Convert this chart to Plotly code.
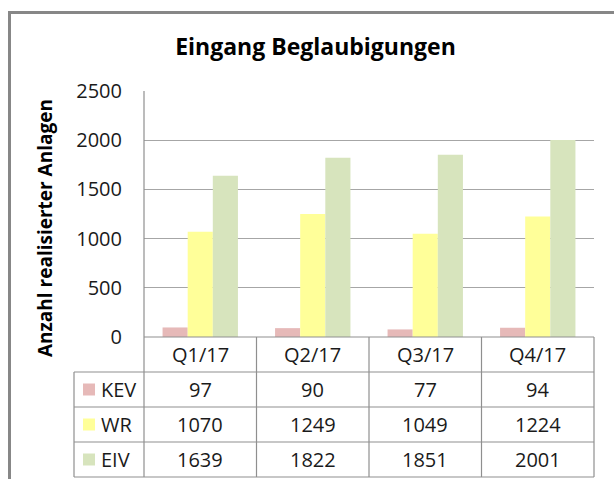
import plotly.graph_objects as go

categories = ["Q1/17", "Q2/17", "Q3/17", "Q4/17"]
series_names = ["KEV", "WR", "EIV"]
kev = [97, 90, 77, 94]
wr = [1070, 1249, 1049, 1224]
eiv = [1639, 1822, 1851, 2001]
colors = ["#e6b9b8", "#ffff99", "#d7e4bd"]
y_ticks = [0, 500, 1000, 1500, 2000, 2500]
title_text = "Eingang Beglaubigungen"
y_title = "Anzahl realisierter Anlagen"

series_values = [kev, wr, eiv]

W, H = 614, 479
L, R, T, B = 144, 20, 91, 142
plot_w = W - L - R
plot_h = H - T - B
row_h = 35 / plot_h
leg_left = (74 - L) / plot_w

FONT = "Open Sans"
LINE = "#8f8f8f"
GRID = "#a6a6a6"
TXT = "#1a1a1a"
FS = 20

fig = go.Figure()
for name, vals, col in zip(series_names, series_values, colors):
    fig.add_trace(go.Bar(x=categories, y=vals, name=name, marker=dict(color=col, line=dict(width=0))))

shapes = []
# chart outer border (left and top)
shapes.append(dict(type="line", xref="paper", yref="paper",
                   x0=(9.5 - L) / plot_w, x1=(9.5 - L) / plot_w,
                   y0=(H - B - 12.5) / plot_h, y1=-(B + 10) / plot_h,
                   line=dict(color="#878787", width=3)))
shapes.append(dict(type="line", xref="paper", yref="paper",
                   x0=(8 - L) / plot_w, x1=(W + 10 - L) / plot_w,
                   y0=(H - B - 12.5) / plot_h, y1=(H - B - 12.5) / plot_h,
                   line=dict(color="#878787", width=3)))
# plot left axis line
shapes.append(dict(type="line", xref="x domain", yref="y domain", x0=0, x1=0, y0=1, y1=-4 * row_h,
                   line=dict(color=LINE, width=1.2)))
# right border of table
shapes.append(dict(type="line", xref="x domain", yref="y domain", x0=1, x1=1, y0=0, y1=-4 * row_h,
                   line=dict(color=LINE, width=1.2)))
# legend column left border
shapes.append(dict(type="line", xref="x domain", yref="y domain", x0=leg_left, x1=leg_left,
                   y0=-row_h, y1=-4 * row_h, line=dict(color=LINE, width=1.2)))
# category separators
for i in range(len(categories) - 1):
    shapes.append(dict(type="line", xref="x", yref="y domain", x0=i + 0.5, x1=i + 0.5,
                       y0=0, y1=-4 * row_h, line=dict(color=LINE, width=1.2)))
# horizontal table lines
shapes.append(dict(type="line", xref="x domain", yref="y domain", x0=0, x1=1, y0=0, y1=0,
                   line=dict(color=LINE, width=1.2)))
for k in range(1, 5):
    shapes.append(dict(type="line", xref="x domain", yref="y domain", x0=leg_left, x1=1,
                       y0=-k * row_h, y1=-k * row_h, line=dict(color=LINE, width=1.2)))
# legend swatches
sw_x0 = (83 - L) / plot_w
sw_x1 = (95 - L) / plot_w
for k, col in enumerate(colors):
    yc = -(k + 1.5) * row_h
    shapes.append(dict(type="rect", xref="x domain", yref="y domain", x0=sw_x0, x1=sw_x1,
                       y0=yc - 6 / plot_h, y1=yc + 6 / plot_h, fillcolor=col, line=dict(width=0)))

annotations = []
# header row
for c in categories:
    annotations.append(dict(x=c, y=-0.5 * row_h, xref="x", yref="y domain", text=c, showarrow=False,
                            font=dict(family=FONT, size=FS, color=TXT), xanchor="center", yanchor="middle"))
# value rows
for k, (name, vals) in enumerate(zip(series_names, series_values)):
    yc = -(k + 1.5) * row_h
    annotations.append(dict(x=(99 - L) / plot_w, y=yc, xref="x domain", yref="y domain", text=name,
                            showarrow=False, font=dict(family=FONT, size=FS, color=TXT),
                            xanchor="left", yanchor="middle"))
    for c, v in zip(categories, vals):
        annotations.append(dict(x=c, y=yc, xref="x", yref="y domain", text=str(v), showarrow=False,
                                font=dict(family=FONT, size=FS, color=TXT), xanchor="center", yanchor="middle"))
# y-axis title
annotations.append(dict(x=(45 - L) / plot_w, y=(H - B - 228) / plot_h, xref="paper", yref="paper",
                        text="<b>" + y_title + "</b>", textangle=-90, showarrow=False,
                        font=dict(family=FONT, size=19, color="#000000"),
                        xanchor="center", yanchor="middle"))

fig.update_layout(
    width=W, height=H,
    margin=dict(l=L, r=R, t=T, b=B),
    paper_bgcolor="white", plot_bgcolor="white",
    showlegend=False,
    barmode="group", bargap=0.33, bargroupgap=0,
    title=dict(text="<b>" + title_text + "</b>", x=315.5 / W, xref="container", xanchor="center",
               y=1 - 47 / H, yref="container", yanchor="middle",
               font=dict(family=FONT, size=23, color="#000000")),
    xaxis=dict(range=[-0.5, 3.5], showticklabels=False, showgrid=False, zeroline=False,
               showline=False, ticks=""),
    yaxis=dict(range=[0, 2500], tickvals=y_ticks, ticktext=[str(t) for t in y_ticks],
               showgrid=True, gridcolor=GRID, gridwidth=1.3, zeroline=False, showline=False,
               ticks="", ticklabelstandoff=21,
               tickfont=dict(family=FONT, size=FS, color=TXT)),
    shapes=shapes, annotations=annotations,
)

fig.write_html("out.html", config={"displayModeBar": False},
               post_script="document.body.style.margin='0';")
